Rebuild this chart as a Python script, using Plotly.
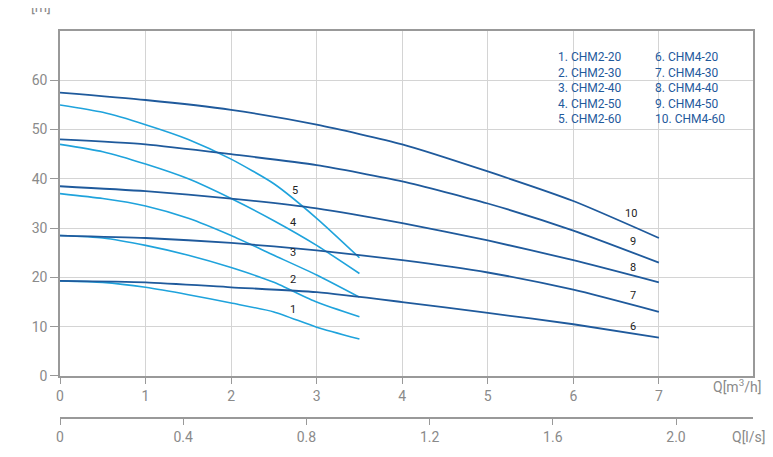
import plotly.graph_objects as go

# flow [m3/h] and head [m]
q_chm2 = [0, 0.5, 1, 1.5, 2, 2.5, 3, 3.5]
h_chm2 = {
    'CHM2-20': [19.3, 19.0, 18.0, 16.5, 14.8, 13.0, 9.9, 7.5],
    'CHM2-30': [28.5, 28.0, 26.5, 24.5, 22.0, 19.0, 15.0, 12.0],
    'CHM2-40': [37.0, 36.0, 34.5, 32.0, 28.5, 24.5, 20.5, 16.0],
    'CHM2-50': [47.0, 45.5, 43.0, 40.0, 36.0, 31.5, 26.5, 20.8],
    'CHM2-60': [55.0, 53.5, 51.0, 48.0, 44.0, 39.0, 32.0, 24.0],
}
q_chm4 = [0, 1, 2, 3, 4, 5, 6, 7]
h_chm4 = {
    'CHM4-20': [19.3, 19.0, 18.0, 17.0, 15.0, 12.8, 10.5, 7.8],
    'CHM4-30': [28.5, 28.0, 27.0, 25.5, 23.5, 21.0, 17.5, 13.0],
    'CHM4-40': [38.5, 37.5, 36.0, 34.0, 31.0, 27.5, 23.5, 19.0],
    'CHM4-50': [48.0, 47.0, 45.0, 42.8, 39.5, 35.0, 29.5, 23.0],
    'CHM4-60': [57.5, 56.0, 54.0, 51.0, 47.0, 41.5, 35.5, 28.0],
}
label_chm2 = [(2.72, 13.4), (2.72, 19.5), (2.72, 25.0), (2.72, 31.2), (2.75, 37.7)]
label_chm4 = [(6.7, 10.1), (6.7, 16.3), (6.7, 22.0), (6.7, 27.3), (6.67, 32.9)]
mh_ticks = [0, 1, 2, 3, 4, 5, 6, 7]
h_ticks = [0, 10, 20, 30, 40, 50, 60]
ls_ticks = [0, 0.4, 0.8, 1.2, 1.6, 2.0]

light = '#1fa3dc'
dark = '#1f5a9c'
gray = '#8a8a8a'
font = 'Roboto'

fig = go.Figure()
for name, h in h_chm2.items():
    fig.add_trace(go.Scatter(x=q_chm2, y=h, mode='lines', name=name,
                             line=dict(color=light, width=1.6, shape='spline', smoothing=0.6)))
for name, h in h_chm4.items():
    fig.add_trace(go.Scatter(x=q_chm4, y=h, mode='lines', name=name,
                             line=dict(color=dark, width=1.8, shape='spline', smoothing=0.6)))

# invisible trace to carry the l/s axis
fig.add_trace(go.Scatter(x=[0, 2.25], y=[None, None], xaxis='x2', showlegend=False, hoverinfo='skip'))

for i, (x, y) in enumerate(label_chm2 + label_chm4):
    fig.add_annotation(x=x, y=y, text=str(i + 1), showarrow=False, font=dict(size=11, color='#222', family='Roboto'))

# legend box
fig.add_shape(type='rect', x0=5.7, x1=7.86, y0=50, y1=67.5, fillcolor='white', line_width=0, layer='below')
names = list(h_chm2) + list(h_chm4)
col1 = '<br>'.join('%d. %s' % (i + 1, n) for i, n in enumerate(names[:5]))
col2 = '<br>'.join('%d. %s' % (i + 6, n) for i, n in enumerate(names[5:]))
fig.add_annotation(x=5.8, y=66.5, text=col1, showarrow=False, xanchor='left', yanchor='top', align='left',
                   font=dict(size=12, color=dark, family='Roboto'))
fig.add_annotation(x=7.8, y=66.5, text=col2, showarrow=False, xanchor='right', yanchor='top', align='left',
                   font=dict(size=12, color=dark, family='Roboto'))

fig.add_annotation(xref='paper', yref='paper', x=-0.045, y=1.035, yanchor='bottom', text='H<br>[m]',
                   showarrow=False, font=dict(size=14, color=gray, family=font), align='center')
fig.add_annotation(xref='paper', yref='paper', x=1.014, y=0.115, text='Q[m<sup>3</sup>/h]', showarrow=False,
                   xanchor='right', font=dict(size=14, color=gray, family=font))
fig.add_annotation(xref='paper', yref='paper', x=1.02, y=-0.005, text='Q[l/s]', showarrow=False,
                   xanchor='right', font=dict(size=14, color=gray, family=font))

fig.update_layout(
    width=773, height=457, margin=dict(l=52, r=28, t=23, b=20),
    plot_bgcolor='white', paper_bgcolor='white', showlegend=False,
    xaxis=dict(range=[0, 8.1], tickvals=mh_ticks, showgrid=True, gridcolor='#d4d4d4', showline=True,
               linecolor='#999', linewidth=1.5, mirror=True, ticks='outside', ticklen=6, tickcolor='#999',
               tickfont=dict(size=14, color=gray, family=font), zeroline=False, domain=[0, 1], automargin=False),
    yaxis=dict(range=[0, 70], tickvals=h_ticks, showgrid=True, gridcolor='#d4d4d4', showline=True,
               linecolor='#999', linewidth=1.5, mirror=True, ticks='outside', ticklen=8, tickcolor='#999',
               tickfont=dict(size=14, color=gray, family=font), zeroline=False, domain=[0.1667, 1],
               automargin=False),
    xaxis2=dict(range=[0, 2.25], tickvals=ls_ticks, ticktext=['0', '0.4', '0.8', '1.2', '1.6', '2.0'],
                overlaying='x', anchor='free', position=0.065, side='bottom', showgrid=False, showline=True,
                linecolor='#999', linewidth=1.5, ticks='outside', ticklen=6, tickcolor='#999',
                tickfont=dict(size=14, color=gray, family=font), zeroline=False, automargin=False),
)

fig.write_html('out.html')
